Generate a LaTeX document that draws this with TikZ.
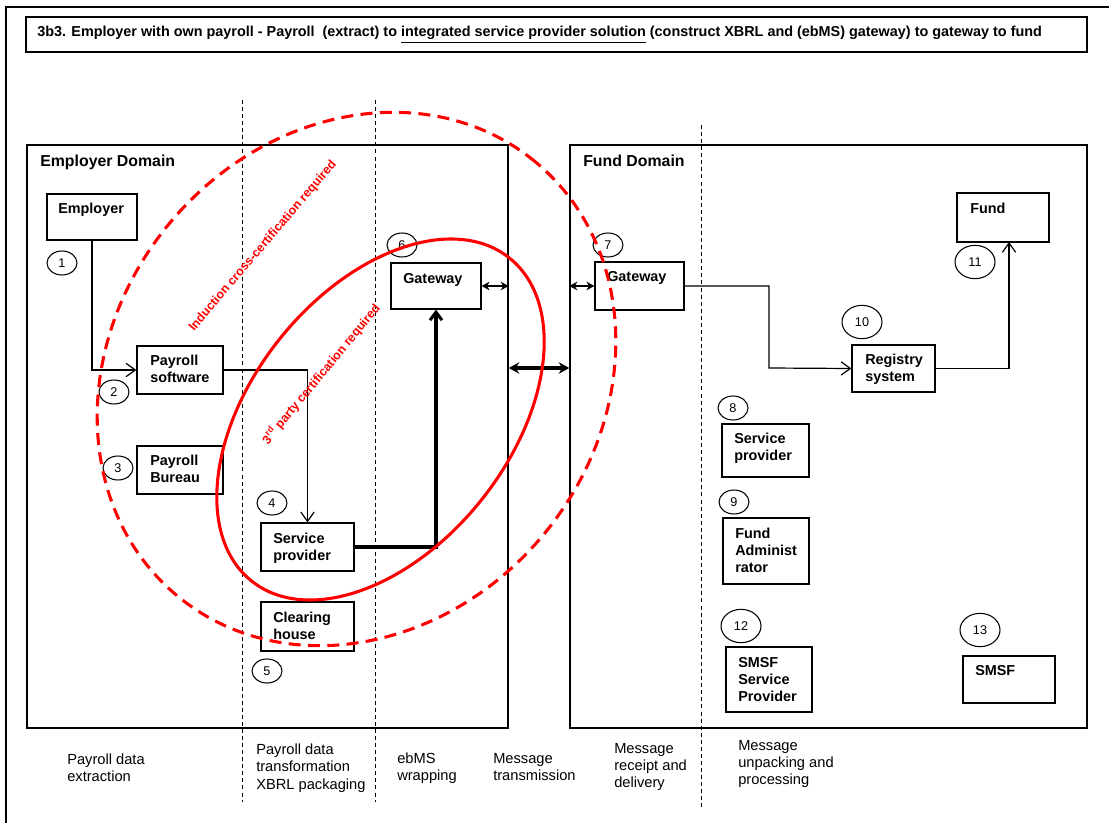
\documentclass[tikz,border=0pt]{standalone}
\usepackage{fontspec}
\setmainfont{Liberation Sans}
\usetikzlibrary{arrows.meta,shapes.geometric,fit,calc}
\definecolor{certred}{RGB}{255,0,0}

\begin{document}
\begin{tikzpicture}[x=0.75pt,y=-0.75pt,
  frame/.style={draw=black, line width=0.8pt},
  domain/.style={draw=black, line width=0.9pt, inner sep=0pt, fit={#1}},
  box/.style={draw=black, line width=0.9pt, inner sep=0pt, fit={#1}},
  lbl/.style={font=\fontsize{10.8}{12.8}\selectfont\bfseries, align=left, inner sep=0pt, anchor=north west},
  domlbl/.style={lbl, font=\fontsize{11.9}{14}\selectfont\bfseries},
  stage/.style={font=\fontsize{11}{12.8}\selectfont, align=left, inner sep=0pt, anchor=north west},
  num/.style={draw=black, ellipse, line width=0.8pt, inner sep=0pt, minimum width=22.5pt, minimum height=18pt, font=\fontsize{9.5}{11}\selectfont},
  bignum/.style={num, minimum width=30pt, minimum height=25pt},
  lane/.style={draw=black, line width=0.7pt, dash pattern=on 3pt off 2.3pt},
  conn/.style={draw=black, line width=0.9pt, -{Straight Barb[length=7pt,width=10pt]}},
  thickconn/.style={draw=black, line width=2.3pt, -{Straight Barb[length=6pt,width=9pt]}},
  link/.style={draw=black, line width=1.5pt, {Stealth[length=6pt,width=6.5pt]}-{Stealth[length=6pt,width=6.5pt]}},
  biglink/.style={draw=black, line width=2.3pt, {Stealth[length=8pt,width=8.5pt]}-{Stealth[length=8pt,width=8.5pt]}},
  certdash/.style={draw=certred, line width=2.3pt, dash pattern=on 9pt off 5.5pt},
  certsolid/.style={draw=certred, line width=2.3pt},
  redtxt/.style={text=certred, font=\fontsize{9.3}{10}\selectfont\bfseries, inner sep=0pt}
]
\useasboundingbox (0,0) rectangle (1109,823);

% outer frame (continues past the page on the right and bottom)
\draw[frame] (6,823) -- (6,7) -- (1109,7);

% title
\node[box={(26,17) (1087,52)}] (titlebox) {};
\node[font=\fontsize{10.8}{12}\selectfont\bfseries, inner sep=0pt, anchor=west] (title) at (37,34.5)
  {3b3. Employer with own payroll - Payroll\ \ (extract) to \underline{integrated service provider solution} (construct XBRL and (ebMS) gateway) to gateway to fund};

% domains
\node[domain={(27,145) (508,728)}] (empD) {};
\node[domain={(570,145) (1087,728)}] (fundD) {};
\node[domlbl] (empDT) at (40,155) {Employer Domain};
\node[domlbl] (fundDT) at (583,155) {Fund Domain};

% stage separators
\draw[lane] (242,100) -- (242,802);
\draw[lane] (375,100) -- (375,802);
\draw[lane] (701,125) -- (701,808);

% employer side boxes
\node[box={(47,194) (137,240)}] (emp) {};
\node[lbl] (empT) at (58,203) {Employer};
\node[box={(137,346) (223,394)}] (pay) {};
\node[lbl] (payT) at (150,355) {Payroll\\software};
\node[box={(137,446) (223,494)}] (bur) {};
\node[lbl] (burT) at (150,455) {Payroll\\Bureau};
\node[box={(261,523) (354,571)}] (spL) {};
\node[lbl] (spLT) at (273,533) {Service\\provider};
\node[box={(261,602) (354,651)}] (clr) {};
\node[lbl] (clrT) at (273,612) {Clearing\\house};
\node[box={(391,263) (481,309)}] (gwL) {};
\node[lbl] (gwLT) at (403,273) {Gateway};

% fund side boxes
\node[box={(595,262) (684,310)}] (gwR) {};
\node[lbl] (gwRT) at (607,271) {Gateway};
\node[box={(957,193) (1049,242)}] (fund) {};
\node[lbl] (fundT) at (970,203) {Fund};
\node[box={(852,345) (935,392)}] (reg) {};
\node[lbl] (regT) at (865,354) {Registry\\system};
\node[box={(722,424) (809,477)}] (spF) {};
\node[lbl] (spFT) at (734,433) {Service\\provider};
\node[box={(723,518) (809,584)}] (adm) {};
\node[lbl] (admT) at (735,528) {Fund\\Administ\\rator};
\node[box={(726,647) (812,712)}] (smsp) {};
\node[lbl] (smspT) at (738,657) {SMSF\\Service\\Provider};
\node[box={(963,656) (1055,703)}] (smsf) {};
\node[lbl] (smsfT) at (975,665) {SMSF};

% step numbers
\node[num] (n1) at (62,263) {1};
\node[num] (n2) at (114,392) {2};
\node[num] (n3) at (118,468) {3};
\node[num] (n4) at (272,503) {4};
\node[num] (n5) at (267,671) {5};
\node[num] (n6) at (402,245) {6};
\node[num] (n7) at (608,245) {7};
\node[num] (n8) at (733,408) {8};
\node[num] (n9) at (734,502) {9};
\node[bignum] (n10) at (862,322) {10};
\node[bignum] (n11) at (975,262) {11};
\node[bignum] (n12) at (741,626) {12};
\node[bignum] (n13) at (980,630) {13};

% message flow
\draw[conn] (emp.south) |- (pay.west);
\draw[conn] (pay.east) -| (spL.north);
\draw[thickconn] (spL.east) -| (gwL.south);
\draw[link] (gwL.east) -- (gwL.east -| empD.east);
\draw[link] (gwR.west -| fundD.west) -- (gwR.west);
\coordinate (tx) at (540,368);
\draw[biglink] (empD.east |- tx) -- (fundD.west |- tx);
\coordinate (turn) at (769,368);
\draw[conn] (gwR.east) -| (turn) -- (reg.west);
\coordinate (fundin) at (1009,242);
\draw[conn] (reg.east) -| (fundin);

% certification boundaries
\draw[certdash, rotate around={50.6:(356.5,379)}] (356.5,379) ellipse [x radius=211pt, y radius=182.5pt];
\draw[certsolid, rotate around={51.4:(380.5,419.5)}] (380.5,419.5) ellipse [x radius=155pt, y radius=96.8pt];
\node[redtxt, rotate=49.5] (ind) at (263,246) {Induction cross-certification required};
\node[redtxt, rotate=50.5] (third) at (321,374) {3\textsuperscript{rd} party certification required};

% stage captions
\node[stage] (s1) at (67,754) {Payroll data\\extraction};
\node[stage] (s2) at (256,744) {Payroll data\\transformation\\XBRL packaging};
\node[stage] (s3) at (397,753) {ebMS\\wrapping};
\node[stage] (s4) at (493,753) {Message\\transmission};
\node[stage] (s5) at (614,743) {Message\\receipt and\\delivery};
\node[stage] (s6) at (738,740) {Message\\unpacking and\\processing};
\end{tikzpicture}
\end{document}
